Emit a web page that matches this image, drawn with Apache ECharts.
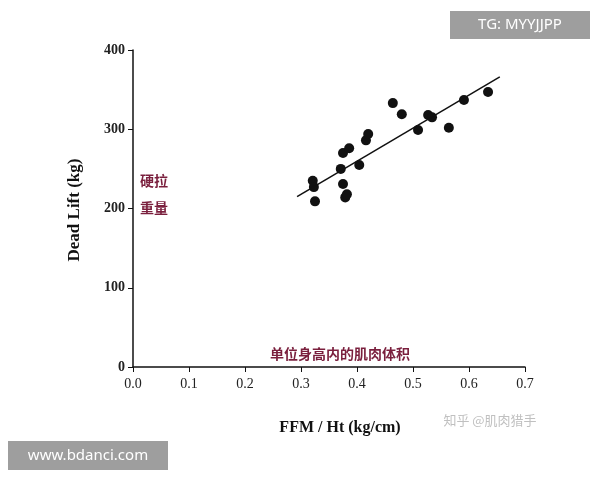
<!DOCTYPE html>
<html>
<head>
<meta charset="utf-8">
<script src="https://cdn.jsdelivr.net/npm/echarts@6/dist/echarts.min.js"></script>
<style>html,body{margin:0;padding:0;background:#fff}#c{width:600px;height:480px}</style>
</head>
<body>
<div id="c"></div>
<script>
// Data
const ffm = [0.321, 0.323, 0.325, 0.371, 0.375, 0.386, 0.375, 0.379, 0.382, 0.404,
             0.416, 0.420, 0.464, 0.480, 0.509, 0.527, 0.534, 0.564, 0.591, 0.634];
const deadLift = [235, 227, 209, 250, 270, 276, 231, 214, 218, 255,
                  286, 294, 333, 319, 299, 318, 315, 302, 337, 347];
const fitLine = [[0.293, 215], [0.655, 366]];
const xTicks = ['0.0', '0.1', '0.2', '0.3', '0.4', '0.5', '0.6', '0.7'];

const serif = '"Liberation Serif", "DejaVu Serif", serif';
const chart = echarts.init(document.getElementById('c'));
chart.setOption({
    animation: false,
    grid: { left: 133, right: 75, top: 50, bottom: 113 },
    xAxis: {
        type: 'value', min: 0, max: 0.7, interval: 0.1,
        axisLine: { lineStyle: { color: '#111', width: 1.5 } },
        axisTick: { show: true, length: 5, lineStyle: { color: '#111' } },
        splitLine: { show: false },
        axisLabel: { color: '#222', fontFamily: serif, fontSize: 14, margin: 10,
            formatter: v => xTicks[Math.round(v * 10)] }
    },
    yAxis: {
        type: 'value', min: 0, max: 400, interval: 100,
        axisLine: { show: true, lineStyle: { color: '#111', width: 1.5 } },
        axisTick: { show: true, length: 5, lineStyle: { color: '#111' } },
        splitLine: { show: false },
        axisLabel: { color: '#222', fontFamily: serif, fontSize: 14, fontWeight: 'bold', margin: 8 }
    },
    series: [
        {
            type: 'scatter', symbolSize: 10,
            itemStyle: { color: '#111', opacity: 1 },
            data: ffm.map((x, i) => [x, deadLift[i]])
        },
        {
            type: 'line', data: fitLine, symbol: 'none',
            lineStyle: { color: '#111', width: 1.5 }
        }
    ],
    graphic: [
        { type: 'text', x: 75, y: 210, rotation: Math.PI / 2,
          style: { text: 'Dead Lift (kg)', font: 'bold 17px ' + serif, fill: '#111',
                   textAlign: 'center', textVerticalAlign: 'middle' } },
        { type: 'text', x: 340, y: 428,
          style: { text: 'FFM / Ht (kg/cm)', font: 'bold 16px ' + serif, fill: '#111',
                   textAlign: 'center', textVerticalAlign: 'middle' } },
        { type: 'text', x: 140, y: 181,
          style: { text: '硬拉', font: 'bold 14px "Noto Sans CJK SC"', fill: '#7a1f3d', textVerticalAlign: 'middle' } },
        { type: 'text', x: 140, y: 208,
          style: { text: '重量', font: 'bold 14px "Noto Sans CJK SC"', fill: '#7a1f3d', textVerticalAlign: 'middle' } },
        { type: 'text', x: 340, y: 354,
          style: { text: '单位身高内的肌肉体积', font: 'bold 14px "Noto Sans CJK SC"', fill: '#7a1f3d',
                   textAlign: 'center', textVerticalAlign: 'middle' } },
        { type: 'rect', shape: { x: 450, y: 11, width: 140, height: 28 }, style: { fill: '#9e9e9e' } },
        { type: 'text', x: 520, y: 25,
          style: { text: 'TG: MYYJJPP', font: '15px "Noto Sans"', fill: '#fff', textAlign: 'center', textVerticalAlign: 'middle' } },
        { type: 'rect', shape: { x: 8, y: 441, width: 160, height: 29 }, style: { fill: '#9e9e9e' } },
        { type: 'text', x: 88, y: 456,
          style: { text: 'www.bdanci.com', font: '15px "Noto Sans"', fill: '#fff', textAlign: 'center', textVerticalAlign: 'middle' } },
        { type: 'text', x: 490, y: 420,
          style: { text: '知乎 @肌肉猎手', font: '13px "Noto Sans CJK SC"', fill: 'rgba(150,150,150,0.6)',
                   textAlign: 'center', textVerticalAlign: 'middle' } }
    ]
});
</script>
</body>
</html>
